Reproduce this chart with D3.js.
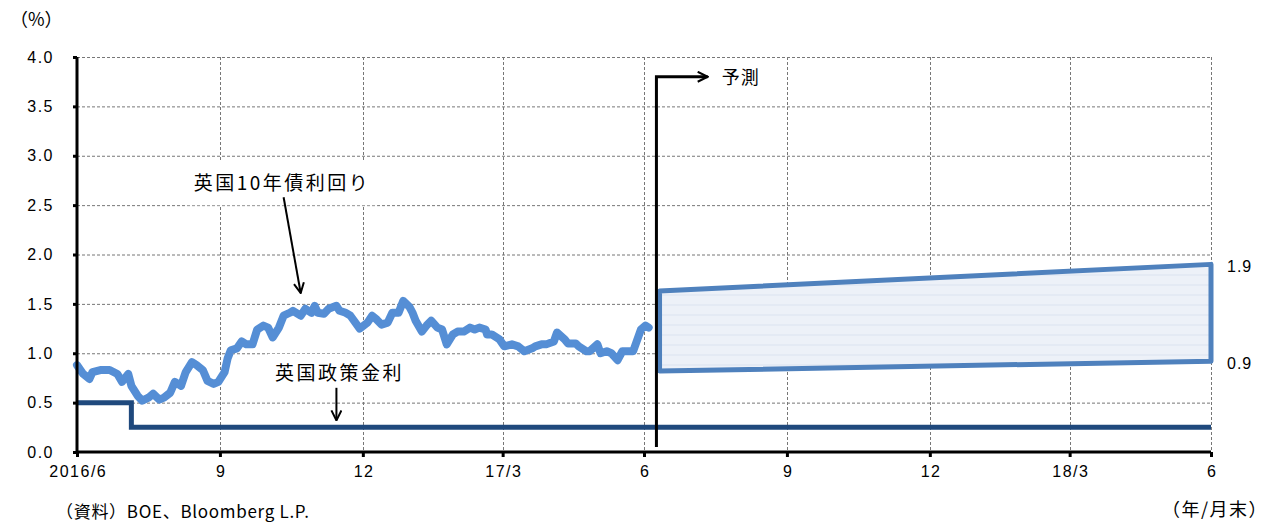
<!DOCTYPE html>
<html>
<head>
<meta charset="utf-8">
<script src="https://cdn.jsdelivr.net/npm/d3@7"></script>
<style>
  body { margin: 0; background: #fff; }
  svg text { font-family: "Noto Sans CJK JP", "Liberation Sans", sans-serif; fill: #000; }
</style>
</head>
<body>
<div id="chart"></div>
<script>
// UK 10y gilt yield (daily-ish)
const yieldDates = [
  "2016-06-30","2016-07-04","2016-07-08","2016-07-10","2016-07-15","2016-07-21","2016-07-26","2016-07-29",
  "2016-08-02","2016-08-04","2016-08-08","2016-08-11","2016-08-15","2016-08-18","2016-08-22","2016-08-25",
  "2016-08-29","2016-09-01","2016-09-05","2016-09-08","2016-09-12","2016-09-15","2016-09-19","2016-09-22",
  "2016-09-26","2016-09-29","2016-10-03","2016-10-05","2016-10-07","2016-10-11","2016-10-14","2016-10-17",
  "2016-10-21","2016-10-24","2016-10-28","2016-10-31","2016-11-03","2016-11-07","2016-11-10","2016-11-14",
  "2016-11-16","2016-11-21","2016-11-24","2016-11-28","2016-11-30","2016-12-02","2016-12-06","2016-12-09",
  "2016-12-14","2016-12-16","2016-12-20","2016-12-23","2016-12-29","2017-01-03","2017-01-06","2017-01-09",
  "2017-01-12","2017-01-16","2017-01-19","2017-01-23","2017-01-26","2017-01-30","2017-02-01","2017-02-03",
  "2017-02-07","2017-02-10","2017-02-13","2017-02-17","2017-02-20","2017-02-23","2017-02-27","2017-03-02",
  "2017-03-06","2017-03-10","2017-03-13","2017-03-16","2017-03-20","2017-03-21","2017-03-24","2017-03-29",
  "2017-04-01","2017-04-06","2017-04-10","2017-04-14","2017-04-19","2017-04-21","2017-04-25","2017-04-28",
  "2017-05-03","2017-05-05","2017-05-10","2017-05-12","2017-05-17","2017-05-19","2017-05-24","2017-05-26",
  "2017-05-31","2017-06-02","2017-06-06","2017-06-09","2017-06-13","2017-06-16","2017-06-21","2017-06-23",
  "2017-06-28","2017-07-01","2017-07-03"
];
const yieldValues = [
  0.88,0.79,0.74,0.81,0.83,0.83,0.79,0.71,
  0.79,0.67,0.57,0.52,0.55,0.59,0.53,0.55,
  0.60,0.71,0.67,0.81,0.91,0.88,0.83,0.72,
  0.69,0.71,0.81,0.95,1.03,1.05,1.12,1.09,
  1.09,1.24,1.28,1.26,1.16,1.26,1.38,1.41,
  1.43,1.38,1.45,1.41,1.48,1.41,1.40,1.45,
  1.48,1.43,1.41,1.38,1.25,1.31,1.38,1.34,
  1.29,1.31,1.41,1.41,1.53,1.47,1.41,1.33,
  1.22,1.28,1.33,1.26,1.24,1.09,1.19,1.22,
  1.22,1.26,1.24,1.26,1.24,1.19,1.19,1.14,
  1.07,1.09,1.07,1.02,1.05,1.07,1.09,1.09,
  1.12,1.21,1.14,1.10,1.10,1.07,1.02,1.02,
  1.09,1.00,1.02,1.00,0.93,1.02,1.02,1.02,
  1.24,1.28,1.26
];

// BOE bank rate
const policyDates = ["2016-06-30","2016-08-04","2018-06-30"];
const policyValues = [0.5, 0.25, 0.25];

// forecast range
const forecastStart = "2017-07-08";
const forecastDates = ["2017-07-10","2018-06-30"];
const forecastHigh = [1.63, 1.9];
const forecastLow = [0.82, 0.92];
const forecastLabels = ["1.9", "0.9"];

const tickDates = ["2016-06-30","2016-09-30","2016-12-31","2017-03-31","2017-06-30",
                   "2017-09-30","2017-12-31","2018-03-31","2018-06-30"];
const tickLabels = ["2016/6","9","12","17/3","6","9","12","18/3","6"];
const yTicks = [0,0.5,1,1.5,2,2.5,3,3.5,4];

const W = 1270, H = 525;
const margin = {top: 57, right: 59, bottom: 73, left: 77};
const parse = d3.timeParse("%Y-%m-%d");
const numFont = "'Liberation Sans', Arial, sans-serif";

const svg = d3.select("#chart").append("svg")
  .attr("width", W).attr("height", H);

const x = d3.scaleTime()
  .domain([parse(tickDates[0]), parse(tickDates[tickDates.length - 1])])
  .range([margin.left, W - margin.right]);
const y = d3.scaleLinear()
  .domain([0, 4])
  .range([H - margin.bottom, margin.top]);

// band fill pattern (faint horizontal lines)
const defs = svg.append("defs");
const pat = defs.append("pattern")
  .attr("id", "bandfill").attr("patternUnits", "userSpaceOnUse")
  .attr("width", 8).attr("height", 10);
pat.append("rect").attr("width", 8).attr("height", 10).attr("fill", "#edf1f8");
pat.append("line").attr("x1", 0).attr("x2", 8).attr("y1", 5).attr("y2", 5)
  .attr("stroke", "#dbe3f0").attr("stroke-width", 1);

// grid
const grid = svg.append("g").attr("stroke", "#777").attr("stroke-width", 1)
  .attr("stroke-dasharray", "3,2");
grid.selectAll(".hg").data(yTicks.slice(1)).enter().append("line")
  .attr("x1", x.range()[0]).attr("x2", x.range()[1])
  .attr("y1", d => y(d) + 0.5).attr("y2", d => y(d) + 0.5);
grid.selectAll(".vg").data(tickDates.slice(1)).enter().append("line")
  .attr("x1", d => Math.round(x(parse(d))) + 0.5).attr("x2", d => Math.round(x(parse(d))) + 0.5)
  .attr("y1", y(4)).attr("y2", y(0));

// forecast band
const bandPts = forecastDates.map((d, i) => [x(parse(d)), y(forecastHigh[i])])
  .concat(forecastDates.slice().reverse().map((d, i) =>
    [x(parse(d)), y(forecastLow[forecastLow.length - 1 - i])]));
svg.append("path")
  .attr("d", d3.line()(bandPts) + "Z")
  .attr("fill", "url(#bandfill)")
  .attr("stroke", "#4f81bd").attr("stroke-width", 5)
  .attr("stroke-linejoin", "round");

svg.selectAll(".blab").data(forecastLabels).enter().append("text")
  .attr("x", x(parse(forecastDates[1])) + 16)
  .attr("y", (d, i) => y(i === 0 ? forecastHigh[1] : forecastLow[1]) + 2)
  .attr("dy", "0.35em")
  .style("font-size", "16px").style("font-family", numFont).style("letter-spacing", "1px")
  .text(d => d);

// policy rate
const policyData = policyDates.map((d, i) => ({date: parse(d), value: policyValues[i]}));
svg.append("path")
  .datum(policyData)
  .attr("fill", "none").attr("stroke", "#1f497d").attr("stroke-width", 5)
  .attr("d", d3.line().curve(d3.curveStepAfter).x(d => x(d.date)).y(d => y(d.value)));

// 10y yield
const yieldData = yieldDates.map((d, i) => ({date: parse(d), value: yieldValues[i]}));
svg.append("path")
  .datum(yieldData)
  .attr("fill", "none").attr("stroke", "#558ed5").attr("stroke-width", 8)
  .attr("stroke-linejoin", "round").attr("stroke-linecap", "round")
  .attr("d", d3.line().x(d => x(d.date)).y(d => y(d.value)));

// axes
const yAxis = svg.append("g")
  .attr("transform", `translate(${margin.left},0)`)
  .call(d3.axisLeft(y).tickValues(yTicks).tickFormat(d3.format(".1f")).tickSize(4).tickPadding(19));
const xAxis = svg.append("g")
  .attr("transform", `translate(0,${y(0)})`)
  .call(d3.axisBottom(x).tickValues(tickDates.map(parse)).tickFormat((d, i) => tickLabels[i])
    .tickSize(5).tickPadding(9));
[yAxis, xAxis].forEach(a => {
  a.select(".domain").attr("stroke", "#000").attr("stroke-width", 3);
  a.selectAll(".tick line").attr("stroke", "#000").attr("stroke-width", 3);
  a.selectAll("text").style("font-size", "16px")
    .style("font-family", numFont).style("letter-spacing", "1.5px");
});
xAxis.selectAll("text").attr("dx", "0.75px");
xAxis.select(".domain").attr("d", `M${x.range()[0]},0H${x.range()[1]}`);
yAxis.select(".domain").attr("d", `M0,${y(0)}V${y(4)}`);

// arrow markers
defs.append("marker").attr("id", "head")
  .attr("viewBox", "0 0 12 12").attr("refX", 11).attr("refY", 6)
  .attr("markerWidth", 12).attr("markerHeight", 12)
  .attr("markerUnits", "userSpaceOnUse").attr("orient", "auto")
  .append("path").attr("d", "M1,1L11,6L1,11")
  .attr("fill", "none").attr("stroke", "#000").attr("stroke-width", 2);

// forecast marker line
const fx = x(parse(forecastStart));
svg.append("path")
  .attr("d", `M${fx},${y(0.05)}V${y(3.8)}H${x(parse("2017-08-10"))}`)
  .attr("fill", "none").attr("stroke", "#000").attr("stroke-width", 3)
  .attr("marker-end", "url(#head)");
svg.append("text")
  .attr("x", x(parse("2017-08-19"))).attr("y", y(3.8)).attr("dy", "0.38em")
  .style("font-size", "18px").style("letter-spacing", "1px")
  .text("予測");

// annotation with white backing
function label(txt, cx, cy, padX, padTop, padBottom) {
  const g = svg.append("g");
  const bg = g.append("rect").attr("fill", "#fff");
  const t = g.append("text")
    .attr("x", cx).attr("y", cy).attr("text-anchor", "middle").attr("dy", "0.36em")
    .style("font-size", "19px").style("letter-spacing", "2.5px")
    .text(txt);
  const b = t.node().getBBox();
  bg.attr("x", b.x - padX).attr("y", b.y - padTop)
    .attr("width", b.width + 2 * padX).attr("height", b.height + padTop + padBottom);
  return g;
}
label("英国10年債利回り", x(parse("2016-11-09")), y(2.72), 7, 8, 10);
svg.append("line")
  .attr("x1", x(parse("2016-11-10"))).attr("y1", y(2.58))
  .attr("x2", x(parse("2016-11-21"))).attr("y2", y(1.61))
  .attr("stroke", "#000").attr("stroke-width", 2)
  .attr("marker-end", "url(#head)");

label("英国政策金利", x(parse("2016-12-16")), y(0.8), 7, 4, 6);
svg.append("line")
  .attr("x1", x(parse("2016-12-14"))).attr("y1", y(0.65))
  .attr("x2", x(parse("2016-12-14"))).attr("y2", y(0.32))
  .attr("stroke", "#000").attr("stroke-width", 2)
  .attr("marker-end", "url(#head)");

// titles / notes
svg.append("text").attr("x", 10).attr("y", 26)
  .style("font-size", "18px").text("（%）");
svg.append("text").attr("x", 1268).attr("y", 516).attr("text-anchor", "end")
  .style("font-size", "18px").style("letter-spacing", "1.5px").text("（年/月末）");
svg.append("text").attr("x", 56).attr("y", 518)
  .style("font-size", "17px").style("letter-spacing", "0.7px").text("（資料）BOE、Bloomberg L.P.");
</script>
</body>
</html>
